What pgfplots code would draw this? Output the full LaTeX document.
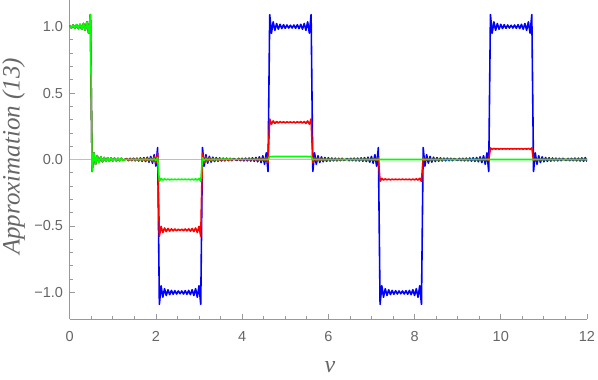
\documentclass[border=0pt]{standalone}
\usepackage{fontspec}
\setmainfont{Liberation Serif}
\newfontfamily\tickfont{Liberation Sans}
\usepackage{pgfplots}
\pgfplotsset{compat=1.18}

\definecolor{axisgray}{gray}{0.6}
\definecolor{labelgray}{gray}{0.4}
\definecolor{zerogray}{gray}{0.75}
\definecolor{mblue}{rgb}{0,0,1}
\definecolor{mred}{rgb}{1,0,0}
\definecolor{mgreen}{rgb}{0,1,0}

\begin{document}
\begin{tikzpicture}
\useasboundingbox (-69.7pt,-61pt) rectangle (528.3pt,319pt);
\begin{axis}[
    at={(0pt,0pt)}, anchor=south west,
    scale only axis,
    width=517.3pt, height=319pt,
    xmin=0, xmax=12, ymin=-1.2, ymax=1.2,
    axis x line=bottom, axis y line=left,
    axis line style={-, axisgray, line width=0.8pt},
    xtick={0,2,4,6,8,10,12}, xticklabels={0,2,4,6,8,10,12},
    minor x tick num=3,
    ytick={-1,-0.5,0,0.5,1}, yticklabels={−1.0,−0.5,0.0,0.5,1.0},
    minor y tick num=4,
    tick align=inside,
    major tick length=5pt, minor tick length=3pt,
    every tick/.style={axisgray, line width=0.8pt},
    every minor tick/.style={axisgray, line width=0.8pt},
    ticklabel style={font=\tickfont\fontsize{14.5}{16}\selectfont, text=labelgray},
    xticklabel style={inner sep=0pt, anchor=north, yshift=-12.5pt},
    yticklabel style={inner sep=0pt, anchor=east, xshift=-6.5pt},
    xlabel={\textit{ν}},
    ylabel={\textit{Approximation (13)}},
    xlabel style={at={(axis description cs:0.503,-0.150)}, anchor=center,
                  font=\fontsize{24}{28}\selectfont, text=labelgray},
    ylabel style={at={(axis description cs:-0.1085,0.51)}, anchor=center,
                  font=\fontsize{25}{30}\selectfont, text=labelgray},
    every axis plot/.append style={line width=1.6pt, line join=round},
]

\addplot[zerogray, line width=0.7pt, forget plot] coordinates {(0,0)(12,0)};

% blue
\addplot[mblue] coordinates {
(0,1.010)(0.04,0.989)(0.08,1.012)(0.12,0.987)(0.16,1.014)(0.20,0.985)(0.24,1.017)(0.28,0.980)(0.32,1.023)(0.36,0.972)(0.40,1.036)(0.44,0.950)(0.48,1.090)
(0.52,-0.090)(0.56,0.050)(0.60,-0.036)(0.64,0.028)(0.68,-0.023)(0.72,0.020)(0.76,-0.017)(0.80,0.015)(0.84,-0.014)(0.88,0.013)(0.92,-0.012)(0.96,0.011)(1.00,-0.010)(1.04,0.010)(1.08,-0.010)(1.12,0.009)(1.16,-0.009)(1.20,0.009)(1.24,-0.008)(1.28,0.000)(1.32,0.008)(1.36,-0.009)(1.40,0.009)(1.44,-0.009)(1.48,0.010)(1.52,-0.010)(1.56,0.010)(1.60,-0.011)(1.64,0.012)(1.68,-0.013)(1.72,0.014)(1.76,-0.015)(1.80,0.017)(1.84,-0.020)(1.88,0.023)(1.92,-0.028)(1.96,0.036)(2.00,-0.050)(2.04,0.090)
(2.08,-1.090)(2.12,-0.950)(2.16,-1.036)(2.20,-0.972)(2.24,-1.023)(2.28,-0.980)(2.32,-1.017)(2.36,-0.985)(2.40,-1.014)(2.44,-0.987)(2.48,-1.012)(2.52,-0.989)(2.56,-1.010)(2.60,-0.989)(2.64,-1.012)(2.68,-0.987)(2.72,-1.014)(2.76,-0.985)(2.80,-1.017)(2.84,-0.980)(2.88,-1.023)(2.92,-0.972)(2.96,-1.036)(3.00,-0.950)(3.04,-1.090)
(3.08,0.090)(3.12,-0.050)(3.16,0.036)(3.20,-0.028)(3.24,0.023)(3.28,-0.020)(3.32,0.017)(3.36,-0.015)(3.40,0.014)(3.44,-0.013)(3.48,0.012)(3.52,-0.011)(3.56,0.010)(3.60,-0.010)(3.64,0.010)(3.68,-0.009)(3.72,0.009)(3.76,-0.009)(3.80,0.008)(3.84,0.000)(3.88,-0.008)(3.92,0.009)(3.96,-0.009)(4.00,0.009)(4.04,-0.010)(4.08,0.010)(4.12,-0.010)(4.16,0.011)(4.20,-0.012)(4.24,0.013)(4.28,-0.014)(4.32,0.015)(4.36,-0.017)(4.40,0.020)(4.44,-0.023)(4.48,0.028)(4.52,-0.036)(4.56,0.050)(4.60,-0.090)
(4.64,1.090)(4.68,0.950)(4.72,1.036)(4.76,0.972)(4.80,1.023)(4.84,0.980)(4.88,1.017)(4.92,0.985)(4.96,1.014)(5.00,0.987)(5.04,1.012)(5.08,0.989)(5.12,1.010)(5.16,0.989)(5.20,1.012)(5.24,0.987)(5.28,1.014)(5.32,0.985)(5.36,1.017)(5.40,0.980)(5.44,1.023)(5.48,0.972)(5.52,1.036)(5.56,0.950)(5.60,1.090)
(5.64,-0.090)(5.68,0.050)(5.72,-0.036)(5.76,0.028)(5.80,-0.023)(5.84,0.020)(5.88,-0.017)(5.92,0.015)(5.96,-0.014)(6.00,0.013)(6.04,-0.012)(6.08,0.011)(6.12,-0.010)(6.16,0.010)(6.20,-0.010)(6.24,0.009)(6.28,-0.009)(6.32,0.009)(6.36,-0.008)(6.40,0.000)(6.44,0.008)(6.48,-0.009)(6.52,0.009)(6.56,-0.009)(6.60,0.010)(6.64,-0.010)(6.68,0.010)(6.72,-0.011)(6.76,0.012)(6.80,-0.013)(6.84,0.014)(6.88,-0.015)(6.92,0.017)(6.96,-0.020)(7.00,0.023)(7.04,-0.028)(7.08,0.036)(7.12,-0.050)(7.16,0.090)
(7.20,-1.090)(7.24,-0.950)(7.28,-1.036)(7.32,-0.972)(7.36,-1.023)(7.40,-0.980)(7.44,-1.017)(7.48,-0.985)(7.52,-1.014)(7.56,-0.987)(7.60,-1.012)(7.64,-0.989)(7.68,-1.010)(7.72,-0.989)(7.76,-1.012)(7.80,-0.987)(7.84,-1.014)(7.88,-0.985)(7.92,-1.017)(7.96,-0.980)(8.00,-1.023)(8.04,-0.972)(8.08,-1.036)(8.12,-0.950)(8.16,-1.090)
(8.20,0.090)(8.24,-0.050)(8.28,0.036)(8.32,-0.028)(8.36,0.023)(8.40,-0.020)(8.44,0.017)(8.48,-0.015)(8.52,0.014)(8.56,-0.013)(8.60,0.012)(8.64,-0.011)(8.68,0.010)(8.72,-0.010)(8.76,0.010)(8.80,-0.009)(8.84,0.009)(8.88,-0.009)(8.92,0.008)(8.96,0.000)(9.00,-0.008)(9.04,0.009)(9.08,-0.009)(9.12,0.009)(9.16,-0.010)(9.20,0.010)(9.24,-0.010)(9.28,0.011)(9.32,-0.012)(9.36,0.013)(9.40,-0.014)(9.44,0.015)(9.48,-0.017)(9.52,0.020)(9.56,-0.023)(9.60,0.028)(9.64,-0.036)(9.68,0.050)(9.72,-0.090)
(9.76,1.090)(9.80,0.950)(9.84,1.036)(9.88,0.972)(9.92,1.023)(9.96,0.980)(10.00,1.017)(10.04,0.985)(10.08,1.014)(10.12,0.987)(10.16,1.012)(10.20,0.989)(10.24,1.010)(10.28,0.989)(10.32,1.012)(10.36,0.987)(10.40,1.014)(10.44,0.985)(10.48,1.017)(10.52,0.980)(10.56,1.023)(10.60,0.972)(10.64,1.036)(10.68,0.950)(10.72,1.090)
(10.76,-0.090)(10.80,0.050)(10.84,-0.036)(10.88,0.028)(10.92,-0.023)(10.96,0.020)(11.00,-0.017)(11.04,0.015)(11.08,-0.014)(11.12,0.013)(11.16,-0.012)(11.20,0.011)(11.24,-0.010)(11.28,0.010)(11.32,-0.010)(11.36,0.009)(11.40,-0.009)(11.44,0.009)(11.48,0.000)(11.52,-0.008)(11.56,0.008)(11.60,-0.009)(11.64,0.009)(11.68,-0.009)(11.72,0.010)(11.76,-0.010)(11.80,0.010)(11.84,-0.011)(11.88,0.012)(11.92,-0.013)(11.96,0.014)(12.00,-0.015)
};

% red
\addplot[mred] coordinates {
(0,1.010)(0.04,0.989)(0.08,1.012)(0.12,0.987)(0.16,1.014)(0.20,0.985)(0.24,1.017)(0.28,0.980)(0.32,1.023)(0.36,0.972)(0.40,1.036)(0.44,0.950)(0.48,1.090)
(0.52,-0.090)(0.56,0.050)(0.60,-0.036)(0.64,0.028)(0.68,-0.023)(0.72,0.020)(0.76,-0.017)(0.80,0.015)(0.84,-0.014)(0.88,0.013)(0.92,-0.012)(0.96,0.011)(1.00,-0.010)(1.04,0.010)(1.08,-0.010)(1.12,0.009)(1.16,-0.009)(1.20,0.009)(1.24,-0.008)(1.28,0.000)(1.32,0.004)(1.36,-0.005)(1.40,0.005)(1.44,-0.005)(1.48,0.005)(1.52,-0.005)(1.56,0.005)(1.60,-0.006)(1.64,0.006)(1.68,-0.007)(1.72,0.007)(1.76,-0.008)(1.80,0.009)(1.84,-0.011)(1.88,0.012)(1.92,-0.015)(1.96,0.019)(2.00,-0.027)(2.04,0.048)
(2.08,-0.578)(2.12,-0.503)(2.16,-0.549)(2.20,-0.515)(2.24,-0.542)(2.28,-0.519)(2.32,-0.539)(2.36,-0.522)(2.40,-0.537)(2.44,-0.523)(2.48,-0.536)(2.52,-0.524)(2.56,-0.535)(2.60,-0.524)(2.64,-0.536)(2.68,-0.523)(2.72,-0.537)(2.76,-0.522)(2.80,-0.539)(2.84,-0.519)(2.88,-0.542)(2.92,-0.515)(2.96,-0.549)(3.00,-0.503)(3.04,-0.578)
(3.08,0.048)(3.12,-0.027)(3.16,0.019)(3.20,-0.015)(3.24,0.012)(3.28,-0.011)(3.32,0.009)(3.36,-0.008)(3.40,0.007)(3.44,-0.007)(3.48,0.006)(3.52,-0.006)(3.56,0.005)(3.60,-0.005)(3.64,0.005)(3.68,-0.005)(3.72,0.005)(3.76,-0.005)(3.80,0.004)(3.84,0.000)(3.88,-0.002)(3.92,0.003)(3.96,-0.003)(4.00,0.003)(4.04,-0.003)(4.08,0.003)(4.12,-0.003)(4.16,0.003)(4.20,-0.003)(4.24,0.004)(4.28,-0.004)(4.32,0.004)(4.36,-0.005)(4.40,0.006)(4.44,-0.006)(4.48,0.008)(4.52,-0.010)(4.56,0.014)(4.60,-0.025)
(4.64,0.305)(4.68,0.266)(4.72,0.290)(4.76,0.272)(4.80,0.286)(4.84,0.274)(4.88,0.285)(4.92,0.276)(4.96,0.284)(5.00,0.276)(5.04,0.283)(5.08,0.277)(5.12,0.283)(5.16,0.277)(5.20,0.283)(5.24,0.276)(5.28,0.284)(5.32,0.276)(5.36,0.285)(5.40,0.274)(5.44,0.286)(5.48,0.272)(5.52,0.290)(5.56,0.266)(5.60,0.305)
(5.64,-0.025)(5.68,0.014)(5.72,-0.010)(5.76,0.008)(5.80,-0.006)(5.84,0.006)(5.88,-0.005)(5.92,0.004)(5.96,-0.004)(6.00,0.004)(6.04,-0.003)(6.08,0.003)(6.12,-0.003)(6.16,0.003)(6.20,-0.003)(6.24,0.003)(6.28,-0.003)(6.32,0.003)(6.36,-0.002)(6.40,0.000)(6.44,0.001)(6.48,-0.001)(6.52,0.001)(6.56,-0.001)(6.60,0.002)(6.64,-0.002)(6.68,0.002)(6.72,-0.002)(6.76,0.002)(6.80,-0.002)(6.84,0.002)(6.88,-0.002)(6.92,0.003)(6.96,-0.003)(7.00,0.003)(7.04,-0.004)(7.08,0.005)(7.12,-0.008)(7.16,0.014)
(7.20,-0.164)(7.24,-0.142)(7.28,-0.155)(7.32,-0.146)(7.36,-0.153)(7.40,-0.147)(7.44,-0.153)(7.48,-0.148)(7.52,-0.152)(7.56,-0.148)(7.60,-0.152)(7.64,-0.148)(7.68,-0.152)(7.72,-0.148)(7.76,-0.152)(7.80,-0.148)(7.84,-0.152)(7.88,-0.148)(7.92,-0.153)(7.96,-0.147)(8.00,-0.153)(8.04,-0.146)(8.08,-0.155)(8.12,-0.142)(8.16,-0.164)
(8.20,0.014)(8.24,-0.008)(8.28,0.005)(8.32,-0.004)(8.36,0.003)(8.40,-0.003)(8.44,0.003)(8.48,-0.002)(8.52,0.002)(8.56,-0.002)(8.60,0.002)(8.64,-0.002)(8.68,0.001)(9.48,-0.001)(9.52,0.002)(9.56,-0.002)(9.60,0.002)(9.64,-0.003)(9.68,0.004)(9.72,-0.007)
(9.76,0.087)(9.80,0.076)(9.84,0.083)(9.88,0.078)(9.92,0.082)(9.96,0.078)(10.00,0.081)(10.04,0.079)(10.08,0.081)(10.12,0.079)(10.16,0.081)(10.20,0.079)(10.24,0.081)(10.28,0.079)(10.32,0.081)(10.36,0.079)(10.40,0.081)(10.44,0.079)(10.48,0.081)(10.52,0.078)(10.56,0.082)(10.60,0.078)(10.64,0.083)(10.68,0.076)(10.72,0.087)
(10.76,-0.007)(10.80,0.004)(10.84,-0.003)(10.88,0.002)(10.92,-0.002)(10.96,0.002)(11.00,-0.001)(11.04,0.001)(11.08,0.000)(12.00,0.000)
};

% green
\addplot[mgreen] coordinates {
(0,1.010)(0.04,0.989)(0.08,1.012)(0.12,0.987)(0.16,1.014)(0.20,0.985)(0.24,1.017)(0.28,0.980)(0.32,1.023)(0.36,0.972)(0.40,1.036)(0.44,0.950)(0.48,1.090)
(0.52,-0.090)(0.56,0.050)(0.60,-0.036)(0.64,0.028)(0.68,-0.023)(0.72,0.020)(0.76,-0.017)(0.80,0.015)(0.84,-0.014)(0.88,0.013)(0.92,-0.012)(0.96,0.011)(1.00,-0.010)(1.04,0.010)(1.08,-0.010)(1.12,0.009)(1.16,-0.009)(1.20,0.009)(1.24,-0.008)(1.28,0.000)(1.32,0.001)(1.36,-0.001)(1.40,0.001)(1.44,-0.001)(1.48,0.002)(1.52,-0.002)(1.56,0.002)(1.60,-0.002)(1.64,0.002)(1.68,-0.002)(1.72,0.002)(1.76,-0.002)(1.80,0.003)(1.84,-0.003)(1.88,0.003)(1.92,-0.004)(1.96,0.005)(2.00,-0.008)(2.04,0.014)
(2.08,-0.164)(2.12,-0.142)(2.16,-0.155)(2.20,-0.146)(2.24,-0.153)(2.28,-0.147)(2.32,-0.153)(2.36,-0.148)(2.40,-0.152)(2.44,-0.148)(2.48,-0.152)(2.52,-0.148)(2.56,-0.152)(2.60,-0.148)(2.64,-0.152)(2.68,-0.148)(2.72,-0.152)(2.76,-0.148)(2.80,-0.153)(2.84,-0.147)(2.88,-0.153)(2.92,-0.146)(2.96,-0.155)(3.00,-0.142)(3.04,-0.164)
(3.08,0.014)(3.12,-0.008)(3.16,0.005)(3.20,-0.004)(3.24,0.003)(3.28,-0.003)(3.32,0.003)(3.36,-0.002)(3.40,0.002)(3.44,-0.002)(3.48,0.002)(4.56,0.000)(4.60,-0.002)
(4.64,0.024)(4.68,0.021)(4.72,0.023)(5.52,0.023)(5.56,0.021)(5.60,0.024)
(5.64,-0.002)(5.68,0.001)(5.72,0.000)(12.00,0.000)
};

\end{axis}
\end{tikzpicture}
\end{document}
